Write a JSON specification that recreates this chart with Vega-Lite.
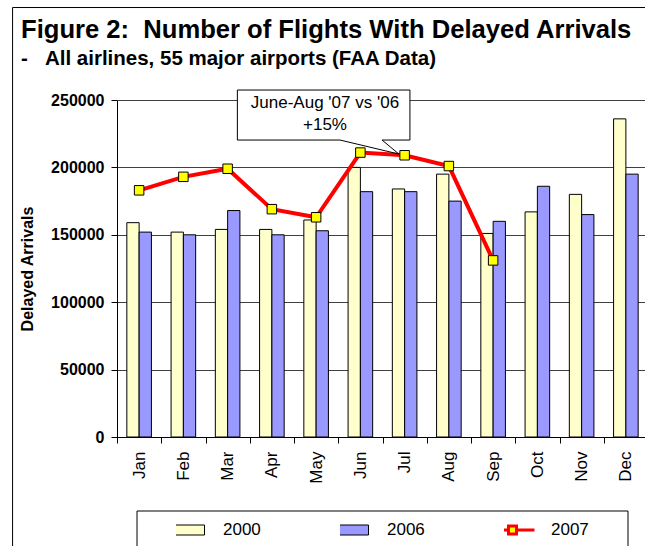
{
  "$schema": "https://vega.github.io/schema/vega-lite/v6.json",
  "autosize": {"type": "none"},
  "padding": {"left": 117, "top": 100, "right": 0, "bottom": 109},
  "width": 531,
  "height": 337,
  "background": "white",
  "title": {
    "text": "Figure 2:\u00a0 Number of Flights With Delayed Arrivals",
    "subtitle": "-\u00a0\u00a0\u00a0All airlines, 55 major airports (FAA Data)",
    "anchor": "start",
    "frame": "group",
    "dx": -96,
    "offset": -62.6,
    "font": "Liberation Sans",
    "fontSize": 25.6,
    "fontWeight": "bold",
    "color": "black",
    "subtitleFont": "Liberation Sans",
    "subtitleFontSize": 20.5,
    "subtitleFontWeight": "bold",
    "subtitleColor": "black",
    "subtitlePadding": 6
  },
  "datasets": {
    "delays": [
      {"month": "Jan", "series": "2000", "value": 159000},
      {"month": "Jan", "series": "2006", "value": 152000},
      {"month": "Jan", "series": "2007", "value": 183000},
      {"month": "Feb", "series": "2000", "value": 152000},
      {"month": "Feb", "series": "2006", "value": 150000},
      {"month": "Feb", "series": "2007", "value": 193000},
      {"month": "Mar", "series": "2000", "value": 154000},
      {"month": "Mar", "series": "2006", "value": 168000},
      {"month": "Mar", "series": "2007", "value": 199000},
      {"month": "Apr", "series": "2000", "value": 154000},
      {"month": "Apr", "series": "2006", "value": 150000},
      {"month": "Apr", "series": "2007", "value": 169000},
      {"month": "May", "series": "2000", "value": 161000},
      {"month": "May", "series": "2006", "value": 153000},
      {"month": "May", "series": "2007", "value": 163000},
      {"month": "Jun", "series": "2000", "value": 200000},
      {"month": "Jun", "series": "2006", "value": 182000},
      {"month": "Jun", "series": "2007", "value": 211000},
      {"month": "Jul", "series": "2000", "value": 184000},
      {"month": "Jul", "series": "2006", "value": 182000},
      {"month": "Jul", "series": "2007", "value": 209000},
      {"month": "Aug", "series": "2000", "value": 195000},
      {"month": "Aug", "series": "2006", "value": 175000},
      {"month": "Aug", "series": "2007", "value": 201000},
      {"month": "Sep", "series": "2000", "value": 151000},
      {"month": "Sep", "series": "2006", "value": 160000},
      {"month": "Sep", "series": "2007", "value": 131000},
      {"month": "Oct", "series": "2000", "value": 167000},
      {"month": "Oct", "series": "2006", "value": 186000},
      {"month": "Nov", "series": "2000", "value": 180000},
      {"month": "Nov", "series": "2006", "value": 165000},
      {"month": "Dec", "series": "2000", "value": 236000},
      {"month": "Dec", "series": "2006", "value": 195000}
    ],
    "frames": [
      {"kind": "figure", "x": -2.36, "x2": 12.3, "y": 318600, "y2": -91000},
      {"kind": "legend", "x": 0.452, "x2": 11.548, "y": -54900, "y2": -91000}
    ],
    "callout_box": [
      {"x": 2.72, "x2": 6.62, "y": 257400, "y2": 220300}
    ],
    "callout_outline": [
      {"i": 0, "x": 2.72, "y": 257400},
      {"i": 1, "x": 6.62, "y": 257400},
      {"i": 2, "x": 6.62, "y": 220300},
      {"i": 3, "x": 5.99, "y": 220300},
      {"i": 4, "x": 6.37, "y": 209900},
      {"i": 5, "x": 5.04, "y": 220300},
      {"i": 6, "x": 2.72, "y": 220300},
      {"i": 7, "x": 2.72, "y": 257400}
    ],
    "callout_text": [
      {"label": "June-Aug '07 vs '06", "x": 4.7, "y": 244000},
      {"label": "+15%", "x": 4.7, "y": 227700}
    ]
  },
  "layer": [
    {
      "data": {"name": "delays"},
      "encoding": {
        "x": {
          "field": "month",
          "type": "ordinal",
          "sort": ["Jan", "Feb", "Mar", "Apr", "May", "Jun", "Jul", "Aug", "Sep", "Oct", "Nov", "Dec"],
          "scale": {"paddingInner": 0, "paddingOuter": 0},
          "axis": {
            "title": null,
            "labelAngle": -90,
            "labelFontSize": 17,
            "labelColor": "black",
            "labelPadding": 8,
            "tickBand": "extent",
            "tickSize": 6,
            "tickColor": "black",
            "domainColor": "black",
            "grid": false
          }
        },
        "y": {
          "field": "value",
          "type": "quantitative",
          "scale": {"domain": [0, 250000], "nice": false},
          "axis": {
            "title": "Delayed Arrivals",
            "titleFontSize": 16,
            "titleFontWeight": "bold",
            "titleColor": "black",
            "titlePadding": 15,
            "values": [0, 50000, 100000, 150000, 200000, 250000],
            "format": "d",
            "labelFontSize": 16,
            "labelFontWeight": "bold",
            "labelColor": "black",
            "labelPadding": 7,
            "tickSize": 6,
            "tickColor": "black",
            "domainColor": "black",
            "grid": true,
            "gridColor": "#404040",
            "gridOpacity": 1
          }
        }
      },
      "layer": [
        {
          "transform": [{"filter": "datum.series != '2007'"}],
          "mark": {"type": "bar", "stroke": "black", "strokeWidth": 1, "opacity": 1},
          "encoding": {
            "xOffset": {"field": "series", "type": "nominal", "scale": {"paddingInner": 0, "paddingOuter": 0.8}},
            "color": {
              "field": "series",
              "type": "nominal",
              "scale": {"domain": ["2000", "2006", "2007"], "range": ["#FFFFCC", "#9999FF", "#FF0000"]},
              "legend": null
            }
          }
        },
        {
          "transform": [{"filter": "datum.series == '2007'"}],
          "mark": {"type": "line", "strokeWidth": 4},
          "encoding": {
            "color": {"field": "series", "type": "nominal", "legend": null}
          }
        },
        {
          "transform": [{"filter": "datum.series == '2007'"}],
          "mark": {"type": "point", "shape": "square", "filled": true, "fill": "#FFFF00", "stroke": "black", "strokeWidth": 1, "size": 90, "opacity": 1}
        },
        {
          "mark": {"type": "point", "opacity": 0},
          "encoding": {
            "shape": {
              "field": "series",
              "type": "nominal",
              "scale": {
                "domain": ["2000", "2006", "2007"],
                "range": ["M-1,-0.25H1V0.25H-1Z", "M-1,-0.25H1V0.25H-1Z", "M-1.1,0H-0.2M0.2,0H1.1M-0.2,-0.2H0.2V0.2H-0.2Z"]
              },
              "legend": {
                "title": null,
                "orient": "bottom",
                "direction": "horizontal",
                "symbolSize": 1600,
                "clipHeight": 20,
                "labelFontSize": 17,
                "labelColor": "black",
                "labelOffset": 30,
                "columnPadding": 79,
                "offset": 36,
                "encoding": {
                  "symbols": {
                    "fill": {"value": {"expr": "datum.value == '2000' ? '#FFFFCC' : datum.value == '2006' ? '#9999FF' : '#FFFF00'"}},
                    "stroke": {"value": {"expr": "datum.value == '2007' ? '#FF0000' : '#000000'"}},
                    "strokeWidth": {"value": {"expr": "datum.value == '2007' ? 3 : 1"}},
                    "opacity": {"value": 1},
                    "fillOpacity": {"value": 1},
                    "strokeOpacity": {"value": 1}
                  }
                }
              }
            }
          }
        }
      ]
    },
    {
      "encoding": {
        "x": {"field": "x", "type": "quantitative", "scale": {"domain": [0, 12], "nice": false, "zero": false}, "axis": null},
        "y": {"field": "y", "type": "quantitative", "scale": {"domain": [0, 250000], "nice": false, "zero": false}, "axis": null}
      },
      "layer": [
        {
          "data": {"name": "frames"},
          "mark": {"type": "rect", "filled": false, "stroke": "black", "strokeWidth": 1},
          "encoding": {"x2": {"field": "x2"}, "y2": {"field": "y2"}}
        },
        {
          "data": {"name": "callout_box"},
          "mark": {"type": "rect", "fill": "white", "stroke": null},
          "encoding": {"x2": {"field": "x2"}, "y2": {"field": "y2"}}
        },
        {
          "data": {"name": "callout_outline"},
          "mark": {"type": "line", "stroke": "black", "strokeWidth": 1},
          "encoding": {"order": {"field": "i", "type": "quantitative"}}
        },
        {
          "data": {"name": "callout_text"},
          "mark": {"type": "text", "fontSize": 17, "font": "Liberation Sans", "color": "black", "align": "center", "baseline": "alphabetic"},
          "encoding": {"text": {"field": "label", "type": "nominal"}}
        }
      ]
    }
  ],
  "resolve": {"scale": {"x": "independent", "y": "independent", "color": "independent"}},
  "config": {
    "view": {"stroke": null},
    "font": "Liberation Sans",
    "axis": {"labelFont": "Liberation Sans", "titleFont": "Liberation Sans"},
    "legend": {
      "labelFont": "Liberation Sans",
      "layout": {"bottom": {"anchor": "middle", "bounds": "flush"}}
    }
  }
}
